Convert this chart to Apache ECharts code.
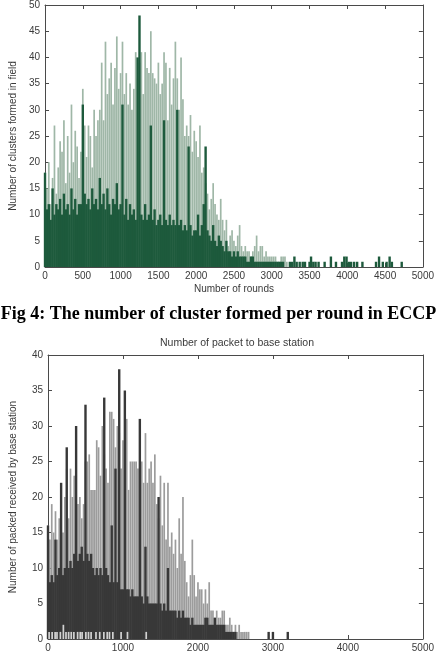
<!DOCTYPE html>
<html>
<head>
<meta charset="utf-8">
<script src="https://cdn.jsdelivr.net/npm/echarts@6/dist/echarts.min.js"></script>
<style>
  html, body { margin: 0; padding: 0; background: #fff; }
  #chart { width: 437px; height: 655px; }
</style>
</head>
<body>
<div id="chart"></div>
<script>
// one value per 25-round bin, starting at round 0
const BIN = 25;

// Fig 4: clusters formed per round (ECCP)
const clusterPeak = [
  18, 15, 20, 12, 17, 27, 14, 19, 24, 22,
  28, 16, 25, 18, 31, 20, 26, 23, 17, 22,
  34, 27, 21, 27, 25, 19, 30, 25, 28, 30,
  39, 28, 43, 33, 36, 39, 31, 38, 44, 34,
  37, 43, 33, 37, 31, 35, 30, 34, 41, 36,
  39, 41, 33, 41, 38, 37, 45, 37, 36, 35,
  39, 33, 35, 41, 39, 28, 38, 31, 36, 43,
  36, 30, 40, 32, 25, 27, 25, 29, 22, 26,
  24, 21, 27, 18, 19, 16, 14, 11, 13, 16,
  12, 10, 9, 13, 9, 7, 9, 4, 6, 7,
  5, 4, 6, 8, 4, 3, 4, 3, 3, 2,
  3, 4, 6, 3, 4, 4, 2, 3, 2, 2,
  2, 2, 2, 1, 1, 2, 2, 2, 1
];
const clusterBase = [
  18, 11, 12, 9, 15, 10, 12, 11, 13, 10,
  14, 11, 12, 10, 15, 11, 13, 10, 12, 12,
  31, 14, 12, 13, 11, 15, 12, 13, 11, 17,
  12, 14, 11, 15, 12, 10, 13, 12, 16, 11,
  12, 31, 10, 13, 9, 12, 10, 11, 9, 40,
  48, 10, 9, 12, 9, 10, 27, 9, 11, 8,
  9, 10, 8, 28, 9, 8, 10, 8, 9, 8,
  30, 8, 9, 7, 8, 7, 23, 8, 6, 7,
  7, 10, 6, 8, 12, 23, 7, 6, 5, 8,
  5, 4, 6, 5, 4, 3, 5, 3, 3, 2,
  3, 2, 3, 2, 2, 2, 2, 1, 1, 2,
  2, 1, 1, 1, 1, 1, 1, 1, 1, 1,
  1, 1, 1, 1, 1, 1, 1, 0, 0
];
const clusterTailRounds = [3240, 3270, 3300, 3330, 3370, 3410, 3440, 3500, 3520, 3550,
  3580, 3620, 3700, 3783, 3850, 3930, 3960, 3990, 4020, 4050,
  4090, 4130, 4200, 4380, 4420, 4470, 4520, 4560, 4590, 4720];
const clusterTailValues = [1, 1, 2, 1, 1, 1, 1, 1, 2, 1,
  1, 1, 1, 2, 1, 1, 2, 2, 1, 1,
  1, 1, 1, 1, 2, 1, 1, 2, 1, 1];

// Number of packet to base station
const packetPeak = [
  16, 14, 19, 15, 18, 14, 17, 19, 15, 20,
  24, 17, 24, 20, 23, 26, 19, 20, 17, 19,
  25, 25, 26, 21, 21, 21, 28, 27, 23, 30,
  26, 24, 22, 32, 32, 31, 27, 30, 29, 24,
  28, 30, 31, 21, 25, 25, 25, 25, 24, 26,
  25, 22, 29, 22, 24, 25, 22, 26, 19, 17,
  23, 16, 22, 14, 22, 13, 15, 12, 14, 10,
  17, 12, 20, 11, 8, 6, 9, 14, 9, 6,
  8, 7, 7, 5, 7, 5, 8, 4, 4, 3,
  4, 3, 3, 4, 4, 2, 2, 3, 2, 1,
  2, 1, 2, 1, 1, 1, 1, 1, 0
];
const packetBase = [
  16, 8, 9, 8, 14, 9, 10, 22, 9, 10,
  27, 10, 11, 10, 12, 30, 11, 12, 13, 11,
  33, 12, 11, 12, 10, 9, 10, 9, 10, 9,
  34, 10, 9, 8, 16, 8, 24, 8, 38, 7,
  7, 35, 7, 7, 6, 7, 6, 6, 6, 31,
  6, 5, 13, 6, 5, 5, 5, 5, 5, 20,
  5, 4, 5, 4, 10, 4, 4, 4, 4, 3,
  4, 3, 4, 3, 3, 3, 2, 3, 2, 2,
  2, 2, 2, 2, 3, 3, 2, 2, 2, 3,
  2, 2, 2, 2, 2, 1, 1, 1, 1, 1,
  1, 0, 0, 0, 0, 0, 0, 0, 0
];
const packetTailRounds = [2943, 3000, 3198];
const packetTailValues = [1, 1, 1];
// thin light slivers along the baseline
const packetLowRounds = [15, 55, 95, 120, 165, 205, 240, 275, 310, 345, 395, 430, 455,
  505, 540, 575, 640, 690, 745, 790, 820, 865, 975, 1060, 1310];
const packetLowValues = [1, 1, 1, 1, 1, 2, 1, 1, 1, 1, 1, 1, 1,
  1, 1, 1, 1, 1, 1, 1, 1, 1, 1, 1, 1];

function binned(list) {
  return list.map((v, i) => [i * BIN, v]);
}
function pairs(xs, ys) {
  return xs.map((x, i) => [x, ys[i]]);
}

const font = '"Liberation Sans", Arial, sans-serif';
const axisColor = '#4a4a4a';
const textColor = '#3a3a3a';
const plain = v => String(v);

function xAxisPair(grid, interval, name) {
  const base = {
    type: 'value', gridIndex: grid, min: 0, max: 5000, interval: interval,
    axisLine: { show: true, onZero: false, lineStyle: { color: axisColor } },
    axisTick: { show: true, inside: true, length: 4, lineStyle: { color: axisColor } },
    splitLine: { show: false }
  };
  return [
    Object.assign({}, base, {
      position: 'bottom',
      axisLabel: { color: textColor, fontFamily: font, fontSize: 10, margin: 4,
        formatter: plain, alignMaxLabel: 'center', alignMinLabel: 'center' },
      name: name, nameLocation: 'middle', nameGap: 17,
      nameTextStyle: { color: textColor, fontFamily: font, fontSize: 10 }
    }),
    Object.assign({}, base, { position: 'top', axisLabel: { show: false } })
  ];
}
function yAxisPair(grid, max, name, gap) {
  const base = {
    type: 'value', gridIndex: grid, min: 0, max: max, interval: 5,
    axisLine: { show: true, onZero: false, lineStyle: { color: axisColor } },
    axisTick: { show: true, inside: true, length: 4, lineStyle: { color: axisColor } },
    splitLine: { show: false }
  };
  return [
    Object.assign({}, base, {
      position: 'left',
      axisLabel: { color: textColor, fontFamily: font, fontSize: 10, margin: 5 },
      name: name, nameLocation: 'middle', nameGap: gap,
      nameTextStyle: { color: textColor, fontFamily: font, fontSize: 10 }
    }),
    Object.assign({}, base, { position: 'right', axisLabel: { show: false } })
  ];
}

const chart = echarts.init(document.getElementById('chart'));
const option = {
  animation: false,
  backgroundColor: '#fff',
  grid: [
    { left: 36, top: 1, width: 393, height: 266 },
    { left: 41, top: 355, width: 392, height: 284 }
  ],
  xAxis: [
    ...xAxisPair(0, 500, 'Number of rounds'),
    ...xAxisPair(1, 1000, '')
  ],
  yAxis: [
    ...yAxisPair(0, 50, 'Number of clusters formed in field', 27),
    ...yAxisPair(1, 40, 'Number of packed received by base station', 30)
  ],
  graphic: [
    {
      type: 'text', left: 'center', top: 305,
      style: { text: 'Fig 4: The number of cluster formed per round in ECCP',
        font: 'bold 18px "Liberation Serif", "Times New Roman", serif', fill: '#000' }
    },
    {
      type: 'text', x: 237, y: 343,
      style: { text: 'Number of packet to base station', font: '10.5px ' + font,
        fill: textColor, textAlign: 'center', textVerticalAlign: 'middle' }
    }
  ],
  series: [
    {
      type: 'bar', xAxisIndex: 0, yAxisIndex: 0, barWidth: 1.7, z: 2,
      itemStyle: { color: '#9fb7a7' }, data: binned(clusterPeak)
    },
    {
      type: 'bar', xAxisIndex: 1, yAxisIndex: 0, barWidth: 2.4, z: 3,
      itemStyle: { color: '#1d5a3c' },
      data: binned(clusterBase).concat(pairs(clusterTailRounds, clusterTailValues))
    },
    {
      type: 'bar', xAxisIndex: 2, yAxisIndex: 2, barWidth: 1.7, z: 2,
      itemStyle: { color: '#9c9c9c' }, data: binned(packetPeak)
    },
    {
      type: 'bar', xAxisIndex: 3, yAxisIndex: 2, barWidth: 2.4, z: 3,
      itemStyle: { color: '#383838' },
      data: binned(packetBase).concat(pairs(packetTailRounds, packetTailValues))
    },
    {
      type: 'bar', xAxisIndex: 2, yAxisIndex: 2, barWidth: 1.7, barGap: '-100%', z: 4,
      itemStyle: { color: '#d2d2d2' }, data: pairs(packetLowRounds, packetLowValues)
    }
  ]
};
chart.setOption(option);
</script>
</body>
</html>
